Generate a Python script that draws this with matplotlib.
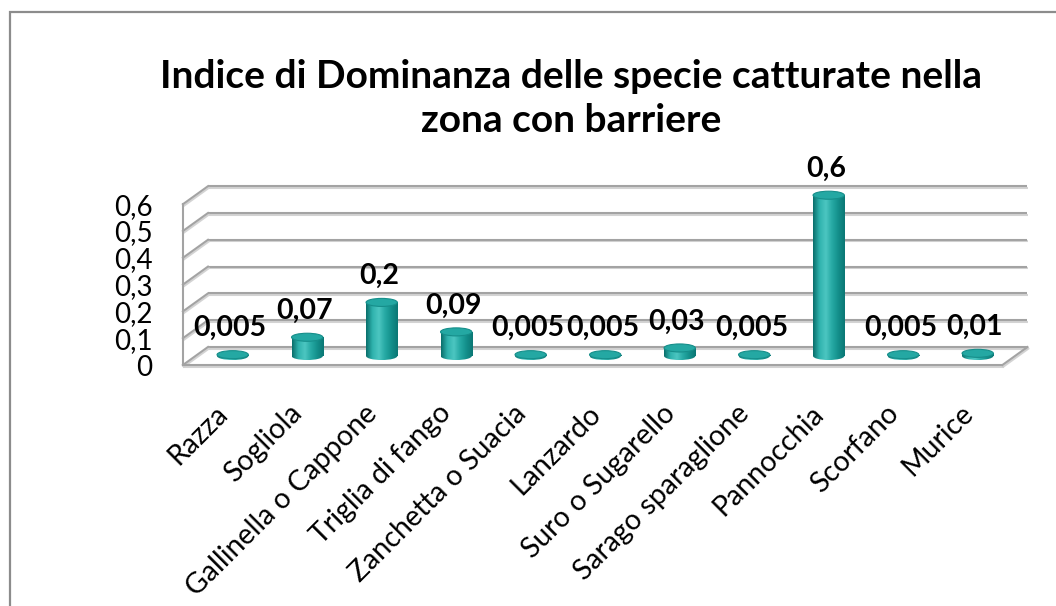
import numpy as np
import matplotlib
matplotlib.use("Agg")
import matplotlib.pyplot as plt
import matplotlib.patheffects as pe
from matplotlib.colors import LinearSegmentedColormap
from matplotlib.patches import Ellipse, Rectangle

plt.rcParams['font.family'] = ['Lato', 'DejaVu Sans']

# Species and dominance index values
species = ["Razza", "Sogliola", "Gallinella o Cappone", "Triglia di fango",
           "Zanchetta o Suacia", "Lanzardo", "Suro o Sugarello",
           "Sarago sparaglione", "Pannocchia", "Scorfano", "Murice"]
dominance = [0.005, 0.07, 0.2, 0.09, 0.005, 0.005, 0.03, 0.005, 0.6, 0.005, 0.01]
y_ticks = [0, 0.1, 0.2, 0.3, 0.4, 0.5, 0.6]
y_tick_labels = ["0", "0,1", "0,2", "0,3", "0,4", "0,5", "0,6"]

title = "Indice di Dominanza delle specie catturate nella\nzona con barriere"

# fake 3D box: half depth offset in data units
ddx, ddy = 0.168, 0.0336
grid_col = '#a3a3a3'
shadow = [pe.SimpleLineShadow(offset=(0.6, -1.2), shadow_color='#cfcfcf', alpha=0.9), pe.Normal()]

fig = plt.figure(figsize=(10.56, 6.06), dpi=100)
ax = fig.add_axes([0.1498, 0.3683, 0.8466, 0.3759])
n = len(species)
x = np.arange(n)
ax.set_xlim(-1, 11)
ax.set_ylim(-0.1, 0.75)

xl_f, xr_f = -0.5 - ddx, n - 0.5 - ddx
xl_b, xr_b = -0.5 + ddx, n - 0.5 + ddx

# back wall gridlines and side wall diagonals
for t in y_ticks:
    ax.plot([xl_b, xr_b], [t + ddy, t + ddy], color=grid_col, lw=1.5,
            path_effects=shadow, zorder=1, solid_capstyle='butt')
    ax.plot([xl_f, xl_b], [t - ddy, t + ddy], color=grid_col, lw=1.5,
            path_effects=shadow, zorder=1)
# front left edge, floor front and right edges
ax.plot([xl_f, xl_f], [-ddy, y_ticks[-1] - ddy], color=grid_col, lw=1.5, zorder=1)
ax.plot([xl_f, xr_f], [-ddy, -ddy], color=grid_col, lw=1.5, path_effects=shadow, zorder=1)
ax.plot([xr_f, xr_b], [-ddy, ddy], color=grid_col, lw=1.5, path_effects=shadow, zorder=1)

# cylinder shading
cyl_cmap = LinearSegmentedColormap.from_list(
    "cyl", ["#0a6f6c", "#2fb3ae", "#4cc6c1", "#26a9a4", "#138f8b", "#0b7774"])
grad = np.linspace(0, 1, 64).reshape(1, -1)
bar_w = 0.42
ell_h = 0.03

bars = ax.bar(x, dominance, width=bar_w, color='none', edgecolor='none', zorder=3)
for bar, v in zip(bars, dominance):
    x0, w = bar.get_x(), bar.get_width()
    # rounded bottom
    bottom = Ellipse((x0 + w / 2, 0), w, ell_h, facecolor='none', edgecolor='none')
    ax.add_patch(bottom)
    im = ax.imshow(grad, cmap=cyl_cmap, extent=(x0, x0 + w, -ell_h / 2, ell_h / 2),
                   aspect='auto', zorder=3, interpolation='bilinear')
    im.set_clip_path(bottom)
    im = ax.imshow(grad, cmap=cyl_cmap, extent=(x0, x0 + w, 0, v),
                   aspect='auto', zorder=3, interpolation='bilinear')
    im.set_clip_path(bar)
    ax.add_patch(Ellipse((x0 + w / 2, v), w, ell_h, facecolor='#24a8a3',
                         edgecolor='#168e8a', lw=0.8, zorder=4))
    ax.annotate(str(v).replace('.', ','), (x0 + w / 2, v), xytext=(-2, 19),
                textcoords='offset points', ha='center', va='center',
                fontsize=20.5, fontweight='bold', color='black', zorder=5)

ax.set_xlim(-1, 11)
ax.set_ylim(-0.1, 0.75)

ax.set_yticks([t - ddy for t in y_ticks])
ax.set_yticklabels(y_tick_labels, fontsize=20)
ax.set_xticks(x - 0.12)
ax.set_xticklabels(species, fontsize=20.5, rotation=45, ha='right', va='center',
                   rotation_mode='anchor')
ax.tick_params(axis='y', length=0, pad=4)
ax.tick_params(axis='x', length=0, pad=19)
for s in ax.spines.values():
    s.set_visible(False)
ax.patch.set_visible(False)

fig.text(0.541, 0.838, title, ha='center', va='center', fontsize=28,
         fontweight='bold', linespacing=1.32)

# chart area border
fig.add_artist(Rectangle((10 / 1056, -0.2), 1.5, 1.2 - 12 / 606,
                         transform=fig.transFigure, fill=False,
                         edgecolor='#8c8c8c', lw=1.6))

fig.savefig("out.png", dpi=100)
